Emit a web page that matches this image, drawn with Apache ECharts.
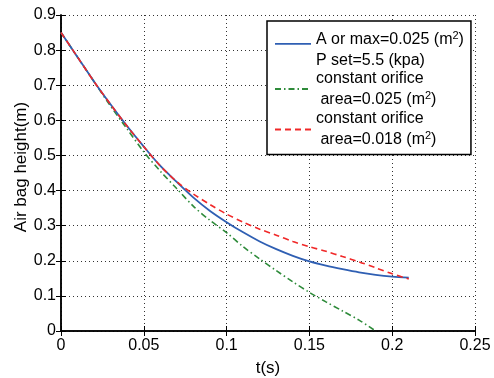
<!DOCTYPE html>
<html>
<head>
<meta charset="utf-8">
<script src="https://cdn.jsdelivr.net/npm/echarts@6/dist/echarts.min.js"></script>
<style>html,body{margin:0;padding:0;background:#fff}#c{width:494px;height:378px}</style>
</head>
<body>
<div id="c"></div>
<script>
const tBlue = [0,0.01,0.02,0.03,0.04,0.05,0.06,0.07,0.08,0.09,0.10,0.11,0.12,0.13,0.14,0.15,0.16,0.17,0.18,0.19,0.20,0.21];
const hBlue = [0.85,0.78,0.71,0.645,0.583,0.525,0.47,0.424,0.38,0.342,0.31,0.281,0.255,0.233,0.214,0.198,0.186,0.176,0.167,0.16,0.155,0.152];
const tRed = [0,0.01,0.02,0.03,0.04,0.05,0.06,0.07,0.08,0.09,0.10,0.11,0.12,0.13,0.14,0.15,0.16,0.17,0.18,0.19,0.20,0.21];
const hRed = [0.85,0.78,0.71,0.645,0.583,0.525,0.47,0.425,0.39,0.36,0.333,0.31,0.29,0.273,0.255,0.24,0.227,0.212,0.197,0.18,0.163,0.148];
const tGreen = [0,0.01,0.02,0.03,0.04,0.05,0.06,0.07,0.08,0.09,0.10,0.11,0.12,0.13,0.14,0.15,0.16,0.17,0.18,0.19];
const hGreen = [0.85,0.78,0.71,0.64,0.575,0.51,0.455,0.405,0.355,0.315,0.28,0.24,0.205,0.172,0.14,0.11,0.083,0.057,0.031,0.0];
const names = ['blue','green','red'];
const legendLabels = {
  blue: '{a|A or max=0.025 (m}{s|2}{a|)}\n{a|P set=5.5 (kpa)}',
  green: '{a|constant orifice}\n{a| area=0.025 (m}{s|2}{a|)}',
  red: '{a|constant orifice}\n{a| area=0.018 (m}{s|2}{a|)}'
};
const xTicks = {min:0, max:0.25, interval:0.05};
const yTicks = {min:0, max:0.9, interval:0.1};

const FONT = 'Liberation Sans';
const pairs = (t,h) => t.map((x,i)=>[x,h[i]]);
const fmt = v => String(parseFloat(v.toFixed(2)));

const chart = echarts.init(document.getElementById('c'));
const axisCommon = {
  axisLine:{show:true,lineStyle:{color:'#000',width:1.5}},
  axisTick:{show:true,inside:true,length:5,lineStyle:{color:'#000',width:1}},
};
chart.setOption({
  animation:false,
  textStyle:{fontFamily:FONT},
  grid:{left:61,right:19,top:15,bottom:47,outerBoundsMode:'none',containLabel:false},
  xAxis:[
    Object.assign({type:'value',min:xTicks.min,max:xTicks.max,interval:xTicks.interval,
      name:'t(s)',nameLocation:'middle',nameGap:29,nameMoveOverlap:false,
      nameTextStyle:{fontSize:17,color:'#000',fontFamily:FONT},
      axisLabel:{fontSize:16,color:'#000',fontFamily:FONT,margin:7,formatter:fmt},
      splitLine:{show:true,lineStyle:{color:'#333',type:[1,3],width:1}}},axisCommon),
    Object.assign({type:'value',position:'top',min:xTicks.min,max:xTicks.max,interval:xTicks.interval,
      axisLabel:{show:false},splitLine:{show:false}},axisCommon)
  ],
  yAxis:[
    Object.assign({type:'value',min:yTicks.min,max:yTicks.max,interval:yTicks.interval,
      name:'Air bag height(m)',nameLocation:'middle',nameGap:31,nameMoveOverlap:false,
      nameTextStyle:{fontSize:17,color:'#000',fontFamily:FONT,padding:[0,0,0,12]},
      axisLabel:{fontSize:16,color:'#000',fontFamily:FONT,margin:5,formatter:fmt},
      splitLine:{show:true,lineStyle:{color:'#333',type:[1,3],width:1}}},axisCommon),
    Object.assign({type:'value',position:'right',min:yTicks.min,max:yTicks.max,interval:yTicks.interval,
      axisLabel:{show:false},splitLine:{show:false}},axisCommon)
  ],
  legend:{
    orient:'vertical',left:267,top:21,
    backgroundColor:'#fff',borderColor:'#000',borderWidth:1.5,
    padding:[9,7,5,7],itemGap:2,itemWidth:36,itemHeight:14,
    itemStyle:{opacity:0},
    data:[
      {name:'blue',icon:'path://M0,0H36V1.7H0ZM0,14',itemStyle:{opacity:1,color:'#2f5fb3'}},
      {name:'green'},
      {name:'red'}
    ],
    formatter:n=>legendLabels[n],
    textStyle:{color:'#000',fontFamily:FONT,
      rich:{a:{fontSize:16,lineHeight:21,color:'#000',fontFamily:FONT},
            s:{fontSize:11,lineHeight:21,color:'#000',fontFamily:FONT,padding:[0,0,8,0]}}}
  },
  series:[
    {name:'blue',type:'line',data:pairs(tBlue,hBlue),smooth:0.3,symbol:'none',
     lineStyle:{color:'#2f5fb3',width:1.8},itemStyle:{color:'#2f5fb3'},z:3},
    {name:'green',type:'line',data:pairs(tGreen,hGreen),smooth:0.3,symbol:'none',
     lineStyle:{color:'#2e8b3a',width:1.6,type:[6,3,1.5,3]},itemStyle:{color:'#2e8b3a'},z:2},
    {name:'red',type:'line',data:pairs(tRed,hRed),smooth:0.3,symbol:'none',
     lineStyle:{color:'#f02828',width:1.6,type:[6,4]},itemStyle:{color:'#f02828'},z:4}
  ]
});
</script>
</body>
</html>
